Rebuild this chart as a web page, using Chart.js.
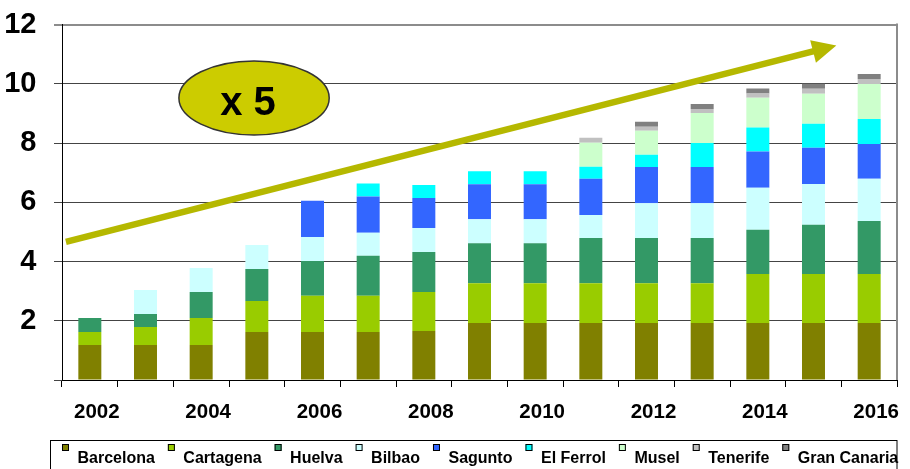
<!DOCTYPE html>
<html><head><meta charset="utf-8">
<script src="https://cdn.jsdelivr.net/npm/chart.js@4.4.1/dist/chart.umd.min.js"></script>
<style>html,body{margin:0;padding:0;background:#fff;overflow:hidden}#wrap{width:910px;height:469px;position:relative}</style>
</head><body><div id="wrap"><canvas id="c" width="910" height="469"></canvas></div>
<script>
const years = ['2002','2003','2004','2005','2006','2007','2008','2009','2010','2011','2012','2013','2014','2015','2016'];
const barcelona   = [1.18,1.18,1.18,1.62,1.62,1.62,1.65,1.92,1.92,1.92,1.92,1.92,1.92,1.92,1.92];
const cartagena   = [0.44,0.61,0.91,1.05,1.22,1.22,1.32,1.35,1.35,1.35,1.35,1.35,1.66,1.66,1.66];
const huelva      = [0.47,0.44,0.88,1.08,1.18,1.35,1.35,1.35,1.35,1.52,1.52,1.52,1.49,1.66,1.79];
const bilbao      = [0,0.81,0.81,0.81,0.81,0.78,0.81,0.81,0.81,0.78,1.18,1.18,1.42,1.38,1.42];
const sagunto     = [0,0,0,0,1.22,1.22,1.01,1.18,1.18,1.22,1.22,1.22,1.22,1.22,1.18];
const elFerrol    = [0,0,0,0,0,0.44,0.44,0.44,0.44,0.41,0.41,0.81,0.81,0.81,0.84];
const musel       = [0,0,0,0,0,0,0,0,0,0.81,0.81,1.01,1.01,1.01,1.18];
const tenerife    = [0,0,0,0,0,0,0,0,0,0.17,0.14,0.14,0.14,0.17,0.17];
const granCanaria = [0,0,0,0,0,0,0,0,0,0,0.17,0.17,0.17,0.17,0.17];
const seriesNames = ['Barcelona','Cartagena','Huelva','Bilbao','Sagunto','El Ferrol','Musel','Tenerife','Gran Canaria'];
const seriesColors = ['#808000','#99cc00','#339966','#ccffff','#3366ff','#00ffff','#ccffcc','#c0c0c0','#808080'];
const yTicks = [0,2,4,6,8,10,12];
// annotation (in data units: category index, value)
const arrowFrom = [-0.43, 4.66];
const arrowTo = [13.41, 11.29];
const badge = {x: 2.95, y: 9.52, rx: 1.35, ry: 1.25, text: 'x 5'};

const FONT = "'Liberation Sans', Arial, Helvetica, sans-serif";
const allSeries = [barcelona,cartagena,huelva,bilbao,sagunto,elFerrol,musel,tenerife,granCanaria];

const overlay = {
  id: 'overlay',
  afterDraw(chart) {
    const {ctx, chartArea: a, scales: {x, y}} = chart;
    ctx.save();
    // right frame line
    ctx.strokeStyle = '#8c8c8c'; ctx.lineWidth = 2;
    ctx.beginPath(); ctx.moveTo(a.right, a.top - 1); ctx.lineTo(a.right, a.bottom); ctx.stroke();
    // arrow
    const x0 = x.getPixelForValue(arrowFrom[0]), y0 = y.getPixelForValue(arrowFrom[1]);
    const x1 = x.getPixelForValue(arrowTo[0]), y1 = y.getPixelForValue(arrowTo[1]);
    const ang = Math.atan2(y1 - y0, x1 - x0), c = Math.cos(ang), s = Math.sin(ang);
    const headLen = 24, headHalf = 11.7;
    const bx = x1 - headLen * c, by = y1 - headLen * s;
    ctx.strokeStyle = '#b5b800'; ctx.fillStyle = '#b5b800'; ctx.lineWidth = 6.5; ctx.lineCap = 'butt';
    ctx.beginPath(); ctx.moveTo(x0, y0); ctx.lineTo(bx + 2 * c, by + 2 * s); ctx.stroke();
    ctx.beginPath(); ctx.moveTo(x1, y1);
    ctx.lineTo(bx + headHalf * s, by - headHalf * c);
    ctx.lineTo(bx - headHalf * s, by + headHalf * c);
    ctx.closePath(); ctx.fill();
    // badge ellipse
    const ex = x.getPixelForValue(badge.x), ey = y.getPixelForValue(badge.y);
    const rx = Math.abs(x.getPixelForValue(badge.x + badge.rx) - ex);
    const ry = Math.abs(y.getPixelForValue(badge.y + badge.ry) - ey);
    ctx.beginPath(); ctx.ellipse(ex, ey, rx, ry, 0, 0, Math.PI * 2);
    ctx.fillStyle = '#cccc00'; ctx.fill();
    ctx.strokeStyle = '#333333'; ctx.lineWidth = 1.5; ctx.stroke();
    ctx.fillStyle = '#000'; ctx.font = 'bold 40px ' + FONT; ctx.textAlign = 'center'; ctx.textBaseline = 'alphabetic';
    ctx.fillText(badge.text, ex - 6, ey + 17.5);
    // legend
    const lTop = a.bottom + 60;
    ctx.strokeStyle = '#000'; ctx.lineWidth = 1;
    ctx.strokeRect(50.5, lTop + 0.5, a.right - 50.5, 60);
    ctx.font = 'bold 16px ' + FONT; ctx.textAlign = 'left'; ctx.textBaseline = 'alphabetic';
    let lx = a.left;
    chart.data.datasets.forEach(ds => {
      ctx.fillStyle = ds.backgroundColor;
      ctx.fillRect(lx, lTop + 4, 7, 7);
      ctx.strokeStyle = '#000'; ctx.lineWidth = 1;
      ctx.strokeRect(lx + 0.5, lTop + 4.5, 6, 6);
      ctx.fillStyle = '#000';
      ctx.fillText(ds.label, lx + 15.5, lTop + 23);
      lx += 15.5 + ctx.measureText(ds.label).width + 13;
    });
    ctx.restore();
  }
};

new Chart(document.getElementById('c'), {
  type: 'bar',
  data: {
    labels: years,
    datasets: allSeries.map((d, i) => ({
      label: seriesNames[i], data: d, backgroundColor: seriesColors[i], borderWidth: 0,
      barPercentage: 0.413, categoryPercentage: 1
    }))
  },
  options: {
    responsive: false, animation: false, devicePixelRatio: 1,
    layout: {padding: {top: 24.5, right: 13, bottom: 0, left: 0}},
    plugins: {legend: {display: false}, tooltip: {enabled: false}},
    scales: {
      x: {
        stacked: true, offset: true,
        grid: {display: true, drawOnChartArea: false, drawTicks: true, tickLength: 7, color: '#000', offset: true},
        border: {display: true, color: '#000', width: 1},
        ticks: {
          autoSkip: false, maxRotation: 0, labelOffset: 7, padding: 13, color: '#000',
          font: {family: FONT, size: 20.5, weight: 'bold'},
          callback: function(v, i) { return i % 2 === 0 ? years[i] : ''; }
        },
        afterFit: s => { s.height = 89; }
      },
      y: {
        stacked: true, min: 0, max: 12,
        afterBuildTicks: s => { s.ticks = yTicks.map(v => ({value: v})); },
        grid: {
          drawTicks: true, tickLength: 8,
          color: ctx => ctx.tick && ctx.tick.value === 12 ? '#8c8c8c' : '#444444',
          lineWidth: ctx => ctx.tick && ctx.tick.value === 12 ? 2 : 1
        },
        border: {display: true, color: '#000', width: 1},
        ticks: {
          padding: 17.5, color: '#000',
          font: {family: FONT, size: 29, weight: 'bold'},
          callback: v => v === 0 ? '' : String(v)
        },
        afterFit: s => { s.width = 62; s.paddingTop = 0; s.paddingBottom = 0; }
      }
    }
  },
  plugins: [overlay]
});
</script></body></html>
